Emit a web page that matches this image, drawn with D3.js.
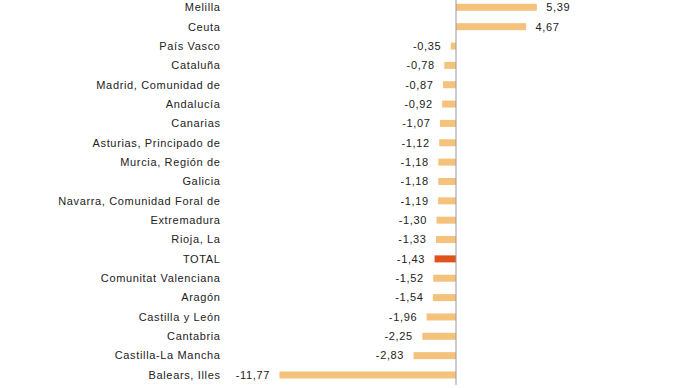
<!DOCTYPE html>
<html>
<head>
<meta charset="utf-8">
<script src="https://cdn.jsdelivr.net/npm/d3@7"></script>
<style>
    body { margin: 0; background: #fff; }
    text { font-family: "Liberation Sans", Arial, sans-serif; font-size: 11px; fill: #222; letter-spacing: 0.65px; }
</style>
</head>
<body>
<svg id="chart" width="691" height="388"></svg>
<script>
// regions, ordered top to bottom as in the chart
let regions = ["Melilla", "Ceuta", "País Vasco", "Cataluña", "Madrid, Comunidad de",
    "Andalucía", "Canarias", "Asturias, Principado de", "Murcia, Región de", "Galicia",
    "Navarra, Comunidad Foral de", "Extremadura", "Rioja, La", "TOTAL",
    "Comunitat Valenciana", "Aragón", "Castilla y León", "Cantabria",
    "Castilla-La Mancha", "Balears, Illes"];

let values = [5.39, 4.67, -0.35, -0.78, -0.87, -0.92, -1.07, -1.12, -1.18, -1.18,
    -1.19, -1.30, -1.33, -1.43, -1.52, -1.54, -1.96, -2.25, -2.83, -11.77];

let data = regions.map(function(r, i) { return {region: r, value: values[i]}; });

let svg = d3.select("#chart");

// 0 sits at x=456, about 15px per unit
let x = d3.scaleLinear()
    .domain([-12, 6])
    .range([456 - 12 * 15, 456 + 6 * 15]);

let y = d3.scalePoint()
    .domain(regions)
    .range([7.3, 375]);

let barH = 7;
let fmt = function(v) { return d3.format(".2f")(v).replace(".", ",").replace("−", "-"); };

// bars
svg.selectAll("rect.bar")
    .data(data)
    .enter().append("rect")
    .attr("class", "bar")
    .attr("x", function(d) { return x(Math.min(0, d.value)); })
    .attr("y", function(d) { return y(d.region) - barH / 2; })
    .attr("width", function(d) { return Math.abs(x(d.value) - x(0)); })
    .attr("height", barH)
    .style("fill", function(d) { return d.region == "TOTAL" ? "#e0521b" : "#f5c27c"; });

// zero line
svg.append("line")
    .attr("x1", x(0)).attr("x2", x(0))
    .attr("y1", 0).attr("y2", 385)
    .style("stroke", "#999")
    .style("stroke-width", 1);

// category labels
svg.selectAll("text.cat")
    .data(data)
    .enter().append("text")
    .attr("class", "cat")
    .attr("x", 220.6)
    .attr("y", function(d) { return y(d.region); })
    .attr("dy", "0.35em")
    .attr("text-anchor", "end")
    .text(function(d) { return d.region; });

// value labels
svg.selectAll("text.val")
    .data(data)
    .enter().append("text")
    .attr("class", "val")
    .attr("x", function(d) { return d.value < 0 ? x(d.value) - 9.4 : x(d.value) + 9.5; })
    .attr("y", function(d) { return y(d.region); })
    .attr("dy", "0.35em")
    .attr("text-anchor", function(d) { return d.value < 0 ? "end" : "start"; })
    .text(function(d) { return fmt(d.value); });
</script>
</body>
</html>
